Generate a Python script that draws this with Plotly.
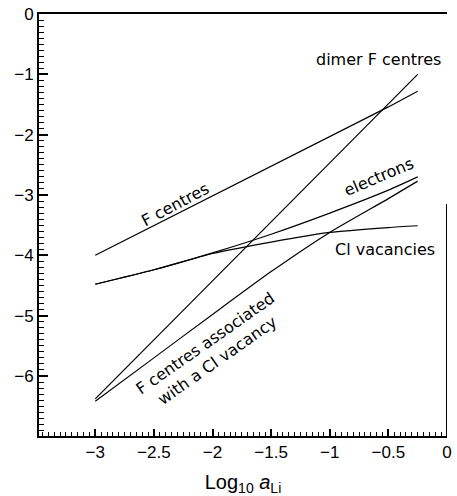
import plotly.graph_objects as go

# Data
log_a = [-3.0, -2.5, -2.0, -1.5, -1.0, -0.5, -0.25]
f_centres = [-4.00, -3.51, -3.02, -2.52, -2.03, -1.54, -1.28]
dimer_f_centres = [-6.38, -5.40, -4.42, -3.44, -2.47, -1.49, -1.00]
electrons = [-4.48, -4.24, -3.96, -3.65, -3.30, -2.92, -2.70]
cl_vacancies = [-4.48, -4.24, -3.97, -3.78, -3.62, -3.54, -3.51]
f_assoc = [-6.42, -5.70, -4.98, -4.27, -3.62, -3.06, -2.77]

x_tick_step = 0.5
y_tick_step = 1
x_minor_step = 0.05
y_minor_step = 0.1

series = [
    ("F centres", f_centres, "linear"),
    ("dimer F centres", dimer_f_centres, "linear"),
    ("electrons", electrons, "spline"),
    ("Cl vacancies", cl_vacancies, "spline"),
    ("F centres associated with a Cl vacancy", f_assoc, "spline"),
]

X_RANGE = [-3.48, 0]
Y_RANGE = [-6.995, 0]

fig = go.Figure()
for name, ys, shape in series:
    fig.add_trace(go.Scatter(
        x=log_a, y=ys, mode="lines", name=name,
        line=dict(color="black", width=1.2, shape=shape, smoothing=0.6),
        showlegend=False,
    ))

lab_font = dict(family="DejaVu Sans", size=16, color="black")
labels = [
    ("dimer F centres", -0.585, -0.75, 0),
    ("F centres", -2.32, -3.15, -28),
    ("electrons", -0.576, -2.70, -23),
    ("Cl vacancies", -0.525, -3.90, 0),
    ("F centres associated<br>with a Cl vacancy", -2.01, -5.60, -35),
]
for txt, x, y, ang in labels:
    fig.add_annotation(x=x, y=y, text=txt, showarrow=False, textangle=ang,
                       font=lab_font, xanchor="center", yanchor="middle")

# partial right frame line seen in the reference
fig.add_shape(type="line", xref="x", yref="y", x0=0, x1=0, y0=-3.15, y1=-7,
              line=dict(color="black", width=2))

tick_font = dict(family="Liberation Sans", size=17, color="black")
fig.update_layout(
    xaxis=dict(
        range=X_RANGE, dtick=x_tick_step,
        ticks="inside", ticklen=7, tickwidth=2, tickcolor="black",
        minor=dict(dtick=x_minor_step, ticks="inside", ticklen=4,
                   tickcolor="black", tickwidth=1),
        showline=True, linecolor="black", linewidth=2, mirror=True,
        showgrid=False, tickfont=tick_font,
        title=dict(text="Log<sub>10</sub> <i>a</i><sub>Li</sub>",
                   font=dict(family="Liberation Sans", size=20, color="black")),
    ),
    yaxis=dict(
        range=Y_RANGE, dtick=y_tick_step,
        ticks="inside", ticklen=9, tickwidth=2, tickcolor="black",
        minor=dict(dtick=y_minor_step, ticks="inside", ticklen=5,
                   tickcolor="black", tickwidth=1),
        showline=True, linecolor="black", linewidth=2,
        showgrid=False, tickfont=tick_font,
    ),
    width=457, height=496,
    margin=dict(l=39, r=5, t=14, b=56),
    plot_bgcolor="white", paper_bgcolor="white",
)
fig.write_html("out.html")
